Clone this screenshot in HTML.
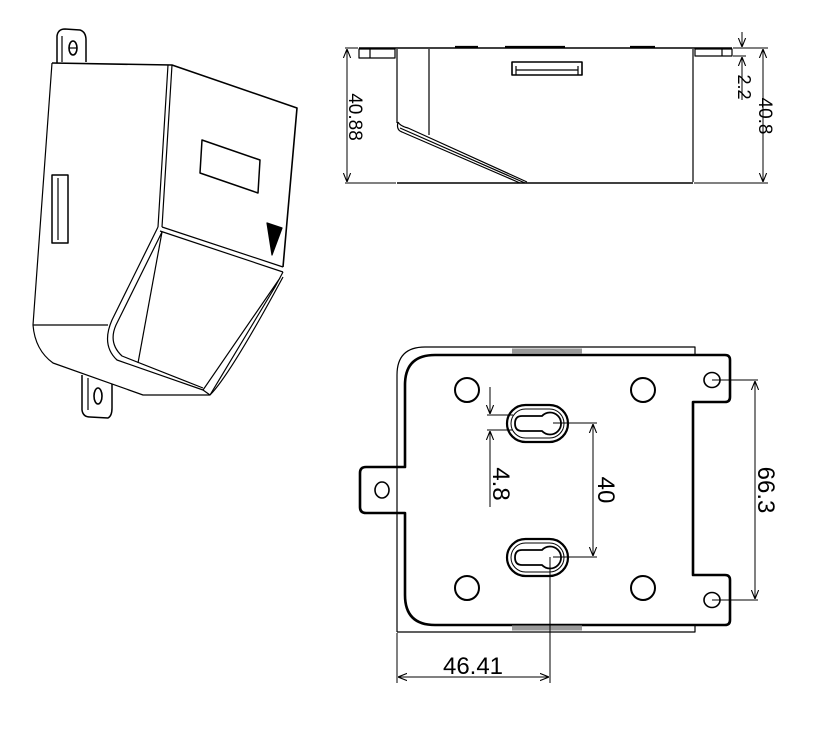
<!DOCTYPE html>
<html><head><meta charset="utf-8"><style>
html,body{margin:0;padding:0;background:#fff;}
svg{display:block;}
text{font-family:"Liberation Sans",sans-serif;fill:#000;}
</style></head><body>
<svg width="832" height="730" viewBox="0 0 832 730" xmlns="http://www.w3.org/2000/svg">
<defs>
<marker id="a" viewBox="0 0 10 10" refX="10" refY="5" markerWidth="9" markerHeight="9" orient="auto-start-reverse" markerUnits="userSpaceOnUse"><path d="M0,1 L10,5 L0,9" fill="none" stroke="#000" stroke-width="1.2"/></marker>
</defs>
<g fill="none" stroke="#000" stroke-width="1.2" stroke-linejoin="round">
<!-- ISO VIEW -->
<path d="M57,63 L57,36 Q58,29 65,29 L80,30 Q86,32 86,40 L86,62" stroke-width="1.5"/>
<path d="M62,62 L62,36"/>
<ellipse cx="73" cy="48" rx="4" ry="7" stroke-width="1.6"/>
<path d="M69,48 L77,48"/>
<path d="M52,63 L172,65 L297,108 L283,267" stroke-width="1.6"/>
<path d="M52,63 L33,325 Q35,350 53,363 L143,395 L210,395 Q230,375 283,277"/>
<path d="M172,65 L162,227 M168,65 L158,227"/>
<path d="M162,227 L283,267 M160,231 L283,272"/>
<path d="M33,325 L108,325"/>
<path d="M158,227 L112,320 Q101,345 117,360 L203,390 L210,395 M162,232 L116,325 Q108,343 122,356 L203,388"/>
<path d="M162,232 L138,363"/>
<path d="M283,272 L275,287 L210,395 M280,278 L203,390"/>
<path d="M202,140 L260,160 L258,193 L200,173 Z" stroke-width="1.5"/>
<rect x="52" y="175" width="16" height="68" stroke-width="1.5"/>
<path d="M58,178 L58,240"/>
<path d="M267,223 L282,228 L272,255 Z" fill="#000"/>
<path d="M82,375 L82,410 Q83,417 90,417 L108,418 Q112,416 112,408 L112,384" stroke-width="1.5"/>
<path d="M88,378 L88,410"/>
<ellipse cx="98" cy="396" rx="4" ry="8" stroke-width="1.6"/>

<!-- SIDE VIEW -->
<path d="M359,48 L732,48 M397,183 L693,183" stroke-width="1.5"/>
<rect x="359" y="49" width="36" height="9"/>
<path d="M370,49 L370,58"/>
<rect x="695" y="49" width="37" height="7"/>
<path d="M722,49 L722,56"/>
<path d="M397,49 L397,123 M429,49 L429,135 M693,49 L693,182" />
<path d="M398,122 Q400,126 408,128 L527,182 M400,128 L525,183 M398,122 Q396,130 402,132 L520,183"/>
<rect x="512" y="62" width="70" height="13" stroke-width="1.6"/>
<path d="M516,70 L578,70 M516,66 L516,75 M578,66 L578,75"/>
<path d="M455,47 L478,47 M505,47 L565,47 M630,47 L655,47" stroke-width="2.2"/>
<!-- dims side -->
<path d="M345,48 L358,48 M345,183 L396,183 M694,183 L768,183 M733,48 L768,48" stroke-width="1"/>
<path d="M347,49 L347,182" marker-start="url(#a)" marker-end="url(#a)" stroke-width="1"/>
<path d="M763,49 L763,182" marker-start="url(#a)" marker-end="url(#a)" stroke-width="1"/>
<path d="M733,56 L746,56" stroke-width="1"/>
<path d="M742,32 L742,47" marker-end="url(#a)" stroke-width="1"/>
<path d="M742,100 L742,57" marker-end="url(#a)" stroke-width="1"/>

<!-- PLATE VIEW -->
<path d="M397,632 L397,375 Q397,347 425,347 L695,347 L695,355" stroke-width="1.2"/>
<path d="M397,632 Q405,632 410,632 L695,632 L695,625"/>
<path d="M435,355 L725,355 Q730,355 730,360 L730,397 Q730,402 725,402 L693,402 L693,575 L725,575 Q730,575 730,580 L730,620 Q730,625 725,625 L435,625 Q405,625 405,595 L405,513 L366,513 Q360,513 360,507 L360,473 Q360,467 366,467 L405,467 L405,385 Q405,355 435,355 Z" stroke-width="2.6"/>
<path d="M512,351 L582,351 M512,628 L582,628" stroke="#999" stroke-width="5"/>
<circle cx="467" cy="390" r="12" stroke-width="2"/>
<circle cx="643" cy="390" r="12" stroke-width="2"/>
<circle cx="467" cy="588" r="12" stroke-width="2"/>
<circle cx="643" cy="588" r="12" stroke-width="2"/>
<ellipse cx="712" cy="380" rx="8" ry="7.5" stroke-width="1.6"/>
<ellipse cx="712" cy="600" rx="8" ry="7.5" stroke-width="1.6"/>
<ellipse cx="382" cy="490" rx="7" ry="8" stroke-width="1.6"/>
<g id="kh">
<rect x="507" y="405" width="61" height="37" rx="18.5" stroke-width="2.2"/>
<rect x="511" y="409" width="53" height="29" rx="14.5" stroke-width="1"/>
<path d="M542,416 A11,11 0 1 1 542,431 L522,431 Q515,431 515,423.5 Q515,416 522,416 Z" stroke-width="1.8"/>
</g>
<use href="#kh" transform="translate(0,134)"/>
<!-- plate dims -->
<path d="M553,423 L597,423 M553,557 L597,557" stroke-width="1"/>
<path d="M593,424 L593,556" marker-start="url(#a)" marker-end="url(#a)" stroke-width="1"/>
<path d="M712,380 L758,380 M712,600 L758,600" stroke-width="1"/>
<path d="M755,381 L755,599" marker-start="url(#a)" marker-end="url(#a)" stroke-width="1"/>
<path d="M487,415 L513,415 M487,430 L513,430" stroke-width="1"/>
<path d="M490,387 L490,414" marker-end="url(#a)" stroke-width="1"/>
<path d="M490,507 L490,431" marker-end="url(#a)" stroke-width="1"/>
<path d="M397,633 L397,683 M550,557 L550,683" stroke-width="1"/>
<path d="M398,677 L549,677" marker-start="url(#a)" marker-end="url(#a)" stroke-width="1"/>
</g>
<g font-size="19">
<text transform="translate(349,117) rotate(90)" text-anchor="middle">40.88</text>
<text transform="translate(759,116) rotate(90)" text-anchor="middle">40.8</text>
<text transform="translate(738,87) rotate(90)" text-anchor="middle" font-size="18">2.2</text>
<text transform="translate(598,490) rotate(90)" text-anchor="middle" font-size="24">40</text>
<text transform="translate(758,490) rotate(90)" text-anchor="middle" font-size="24">66.3</text>
<text transform="translate(493,484) rotate(90)" text-anchor="middle" font-size="24">4.8</text>
<text x="473" y="674" text-anchor="middle" font-size="24">46.41</text>
</g>
</svg>
</body></html>
